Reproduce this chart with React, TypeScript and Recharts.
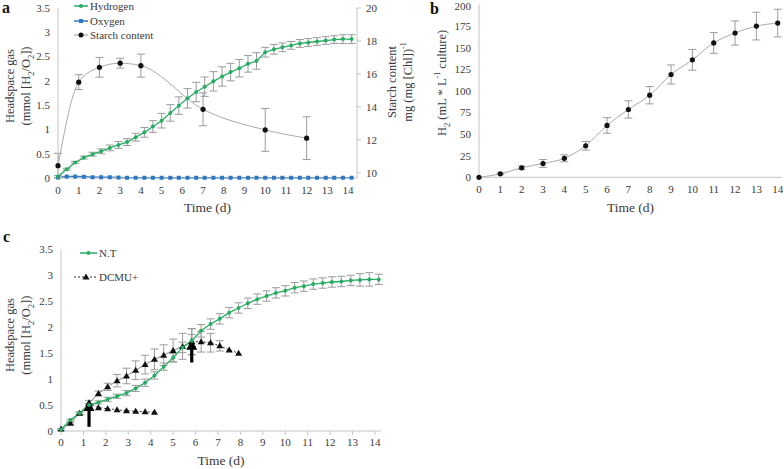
import React from 'react';
import { LineChart, Line, XAxis, YAxis, ErrorBar, Legend, ReferenceLine } from 'recharts';

const FONT = '"Liberation Serif", "Times New Roman", serif';
const GREEN = '#27ad62';
const BLUE = '#2e78c2';
const AXIS = '#c4c4c4';
const ERR = '#9b9b9b';
const TEXT = '#3a3a3a';

const dayTicks = [0, 1, 2, 3, 4, 5, 6, 7, 8, 9, 10, 11, 12, 13, 14];

// sampling every ~10 h (panels a and c)
const times = [
  0, 0.42, 0.83, 1.25, 1.67, 2.08, 2.5, 2.92, 3.33, 3.75, 4.17, 4.58, 5, 5.42, 5.83, 6.25, 6.67, 7.08,
  7.5, 7.92, 8.33, 8.75, 9.17, 9.58, 10, 10.42, 10.83, 11.25, 11.67, 12.08, 12.5, 12.92, 13.33, 13.75, 14.17,
];

// panel a
const hydrogen = [
  0.03, 0.18, 0.32, 0.42, 0.49, 0.55, 0.62, 0.68, 0.74, 0.84, 0.94, 1.06, 1.18, 1.34, 1.49, 1.64, 1.77, 1.88,
  1.99, 2.09, 2.18, 2.26, 2.35, 2.41, 2.59, 2.65, 2.69, 2.73, 2.77, 2.79, 2.81, 2.83, 2.85, 2.86, 2.86,
];
const hydrogenErr = [
  0.02, 0.02, 0.02, 0.03, 0.04, 0.05, 0.06, 0.07, 0.07, 0.08, 0.1, 0.12, 0.15, 0.17, 0.18, 0.2, 0.2, 0.2,
  0.2, 0.2, 0.18, 0.18, 0.17, 0.17, 0.1, 0.1, 0.09, 0.08, 0.08, 0.08, 0.08, 0.08, 0.08, 0.09, 0.09,
];
const oxygen = [
  0.01, 0.03, 0.03, 0.025, 0.015, 0.015, 0.015, 0.01, 0.005, 0.005, 0.005, 0.005, 0.005, 0.005, 0.005, 0.005,
  0.005, 0.005, 0.005, 0.005, 0.005, 0.005, 0.005, 0.005, 0.005, 0.005, 0.005, 0.005, 0.005, 0.005, 0.005,
  0.005, 0.005, 0.005, 0.005,
];
const starchDays = [0, 1, 2, 3, 4, 7, 10, 12];
const starch = [10.43, 15.5, 16.4, 16.65, 16.5, 13.85, 12.6, 12.1];
const starchErr = [0.75, 0.45, 0.6, 0.3, 0.7, 1.0, 1.3, 1.3];

// panel b
const h2Volume = [0, 4, 11, 16, 22, 36.5, 60, 78.5, 95, 119, 136, 155.5, 167, 175, 178.5];
const h2VolumeErr = [0, 1, 2, 4.5, 4, 5, 9, 10, 10, 11, 12, 12, 14, 16, 16];

// panel c
const nt = [
  0.03, 0.21, 0.34, 0.5, 0.55, 0.61, 0.67, 0.73, 0.82, 0.93, 1.07, 1.24, 1.41, 1.61, 1.74, 1.93, 2.06, 2.16,
  2.28, 2.37, 2.46, 2.54, 2.6, 2.66, 2.7, 2.76, 2.79, 2.83, 2.85, 2.87, 2.88, 2.9, 2.91, 2.92, 2.92,
];
const ntErr = [
  0.02, 0.02, 0.02, 0.03, 0.03, 0.04, 0.04, 0.05, 0.06, 0.07, 0.07, 0.07, 0.08, 0.1, 0.12, 0.12, 0.1, 0.1,
  0.1, 0.1, 0.1, 0.1, 0.1, 0.1, 0.1, 0.1, 0.1, 0.1, 0.1, 0.1, 0.1, 0.1, 0.12, 0.13, 0.1,
];
const ctrlTimes = [0, 0.42, 0.83, 1.25, 1.67, 2.08, 2.5, 2.92, 3.33, 3.75, 4.17, 4.58, 5, 5.42, 5.83];
const ctrl = [0.04, 0.15, 0.34, 0.54, 0.72, 0.85, 0.97, 1.06, 1.17, 1.28, 1.38, 1.46, 1.55, 1.63, 1.72];
const ctrlErr = [0, 0.02, 0.03, 0.05, 0.05, 0.07, 0.12, 0.15, 0.18, 0.18, 0.2, 0.2, 0.22, 0.25, 0.25];
const dcmuEarlyTimes = [1.25, 1.67, 2.08, 2.5, 2.92, 3.33, 3.75, 4.17];
const dcmuEarly = [0.54, 0.45, 0.43, 0.41, 0.39, 0.38, 0.37, 0.36];
const dcmuLateTimes = [5.83, 6.25, 6.67, 7.08, 7.5, 7.92];
const dcmuLate = [1.72, 1.72, 1.7, 1.64, 1.56, 1.5];
const dcmuLateErr = [0.25, 0.2, 0.18, 0.1, 0, 0];
// DCMU addition (arrows)
const arrows = [
  { t: 1.25, from: 0.08, to: 0.58 },
  { t: 5.83, from: 1.32, to: 1.76 },
];

type Row = { t: number; v: number; e: number };
const rows = (ts: number[], vs: number[], es?: number[]): Row[] =>
  ts.map((t, i) => ({ t, v: vs[i], e: es ? es[i] : 0 }));

const tickStyle = { fill: TEXT, fontSize: 11, fontFamily: FONT };
const xTitle = (offset: number) => ({
  value: 'Time (d)',
  position: 'insideBottom' as const,
  offset,
  fill: TEXT,
  fontSize: 13.5,
  fontFamily: FONT,
});

const YTitle = ({ viewBox, xs, shift, lines }: any) => {
  const cy = (viewBox?.y ?? 0) + (viewBox?.height ?? 0) / 2 + shift;
  return (
    <g>
      {lines.map((ln: React.ReactNode, i: number) => (
        <text
          key={i}
          x={xs[i]}
          y={cy}
          transform={`rotate(-90, ${xs[i]}, ${cy})`}
          textAnchor="middle"
          dominantBaseline="central"
          fontFamily={FONT}
          fontSize={12.5}
          fill={TEXT}
        >
          {ln}
        </text>
      ))}
    </g>
  );
};

const sub = (s: string) => (
  <tspan baselineShift="sub" fontSize={8.5}>
    {s}
  </tspan>
);
const sup = (s: string) => (
  <tspan baselineShift="super" fontSize={8}>
    {s}
  </tspan>
);

const headspace = [
  'Headspace gas',
  <>
    (mmol [H{sub('2')}/O{sub('2')}])
  </>,
];

const Square = (p: any) =>
  p.cx == null ? <g key={`s${p.index}`} /> : (
    <rect key={`s${p.index}`} x={p.cx - 2} y={p.cy - 2} width={4} height={4} fill={BLUE} />
  );

const Tri = (p: any) =>
  p.cx == null ? <g key={`t${p.index}`} /> : (
    <polygon
      key={`t${p.index}`}
      points={`${p.cx},${p.cy - 3.5} ${p.cx + 3.5},${p.cy + 2.5} ${p.cx - 3.5},${p.cy + 2.5}`}
      fill="#111"
    />
  );

const Arrow = (p: any) => {
  const x = p.x1;
  const tip = Math.min(p.y1, p.y2);
  const base = Math.max(p.y1, p.y2);
  return (
    <g>
      <line x1={x} x2={x} y1={base} y2={tip + 9} stroke="#000" strokeWidth={3.2} />
      <polygon points={`${x - 5.5},${tip + 10} ${x + 5.5},${tip + 10} ${x},${tip}`} fill="#000" />
    </g>
  );
};

const LegendA = () => (
  <svg width={200} height={45} style={{ display: 'block' }}>
    <line x1={74} x2={88} y1={6} y2={6} stroke={GREEN} strokeWidth={1.5} />
    <circle cx={81} cy={6} r={2} fill={GREEN} />
    <text x={90} y={6} dominantBaseline="central" {...tickStyle}>Hydrogen</text>
    <line x1={74} x2={88} y1={21} y2={21} stroke={BLUE} strokeWidth={1.5} />
    <rect x={79} y={19} width={4} height={4} fill={BLUE} />
    <text x={90} y={21} dominantBaseline="central" {...tickStyle}>Oxygen</text>
    <line x1={74} x2={88} y1={35} y2={35} stroke="#999" strokeWidth={1} />
    <circle cx={81} cy={35} r={2.5} fill="#111" />
    <text x={90} y={35} dominantBaseline="central" {...tickStyle}>Starch content</text>
  </svg>
);

const LegendC = () => (
  <svg width={200} height={45} style={{ display: 'block' }}>
    <line x1={80} x2={97} y1={13} y2={13} stroke={GREEN} strokeWidth={1.5} />
    <circle cx={88.5} cy={13} r={2} fill={GREEN} />
    <text x={99} y={13} dominantBaseline="central" {...tickStyle}>N.T</text>
    <line x1={74} x2={96} y1={37} y2={37} stroke="#333" strokeWidth={1} strokeDasharray="2 2" />
    <polygon points="86,33.5 89.5,39.5 82.5,39.5" fill="#111" />
    <text x={99} y={37} dominantBaseline="central" {...tickStyle}>DCMU+</text>
  </svg>
);

const legendWrap = { left: 0, top: 0, width: 200, height: 45 };
const greenDot = { r: 2, fill: GREEN, stroke: 'none' };
const blackDot = { r: 2.6, fill: '#111', stroke: 'none' };

export default function App() {
  return (
    <div style={{ position: 'absolute', left: 0, top: 0, width: 784, height: 469, background: '#fff' }}>
      {/* panel a */}
      <div style={{ position: 'absolute', left: 0, top: 0 }}>
        <LineChart width={430} height={220} margin={{ top: 8, right: 13, left: 0, bottom: 0 }}>
          <XAxis
            dataKey="t"
            type="number"
            domain={[0, 14.43]}
            ticks={dayTicks}
            height={42}
            axisLine={{ stroke: AXIS }}
            tickLine={false}
            tick={tickStyle}
            label={xTitle(8)}
          />
          <YAxis
            yAxisId="l"
            domain={[0, 3.5]}
            ticks={[0, 0.5, 1, 1.5, 2, 2.5, 3, 3.5]}
            width={58}
            axisLine={{ stroke: AXIS }}
            tickLine={false}
            tick={tickStyle}
            label={<YTitle xs={[10, 26]} shift={-7} lines={headspace} />}
          />
          <YAxis
            yAxisId="r"
            orientation="right"
            domain={[10, 20]}
            ticks={[10, 12, 14, 16, 18, 20]}
            width={60}
            axisLine={{ stroke: AXIS }}
            tickLine={{ stroke: AXIS }}
            tickSize={4}
            tickMargin={5}
            tick={tickStyle}
            label={
              <YTitle
                xs={[392, 408]}
                shift={-11}
                lines={['Starch content', <>mg (mg [Chl]){sup('-1')}</>]}
              />
            }
          />
          <Legend
            layout="horizontal"
            verticalAlign="middle"
            align="center"
            content={<LegendA />}
            wrapperStyle={legendWrap}
          />
          <Line
            yAxisId="r"
            data={rows(starchDays, starch, starchErr)}
            dataKey="v"
            type="monotone"
            stroke="#aaa"
            strokeWidth={1}
            dot={blackDot}
            isAnimationActive={false}
          >
            <ErrorBar dataKey="e" width={4} stroke={ERR} strokeWidth={1} direction="y" />
          </Line>
          <Line
            yAxisId="l"
            data={rows(times, oxygen)}
            dataKey="v"
            type="linear"
            stroke={BLUE}
            strokeWidth={1.5}
            dot={Square}
            isAnimationActive={false}
          />
          <Line
            yAxisId="l"
            data={rows(times, hydrogen, hydrogenErr)}
            dataKey="v"
            type="linear"
            stroke={GREEN}
            strokeWidth={1.3}
            dot={greenDot}
            isAnimationActive={false}
          >
            <ErrorBar dataKey="e" width={4} stroke={ERR} strokeWidth={1} direction="y" />
          </Line>
        </LineChart>
      </div>

      {/* panel b */}
      <div style={{ position: 'absolute', left: 430, top: 0 }}>
        <LineChart
          width={354}
          height={220}
          margin={{ top: 4.5, right: 2, left: 0, bottom: 0 }}
          data={rows(dayTicks, h2Volume, h2VolumeErr)}
        >
          <XAxis
            dataKey="t"
            type="number"
            domain={[0, 14.2]}
            ticks={dayTicks}
            height={42.7}
            axisLine={{ stroke: AXIS }}
            tickLine={false}
            tick={tickStyle}
            label={xTitle(8)}
          />
          <YAxis
            domain={[0, 200]}
            ticks={[0, 25, 50, 75, 100, 125, 150, 175, 200]}
            width={49}
            axisLine={{ stroke: AXIS }}
            tickLine={false}
            tick={tickStyle}
            label={
              <YTitle
                xs={[12]}
                shift={-8}
                lines={[<>H{sub('2')} (mL * L{sup('-1')} culture)</>]}
              />
            }
          />
          <Line
            dataKey="v"
            type="monotone"
            stroke="#aaa"
            strokeWidth={1}
            dot={blackDot}
            isAnimationActive={false}
          >
            <ErrorBar dataKey="e" width={4} stroke={ERR} strokeWidth={1} direction="y" />
          </Line>
        </LineChart>
      </div>

      {/* panel c */}
      <div style={{ position: 'absolute', left: 0, top: 240 }}>
        <LineChart width={430} height={229} margin={{ top: 9.3, right: 49, left: 0, bottom: 0 }}>
          <XAxis
            dataKey="t"
            type="number"
            domain={[0, 14.27]}
            ticks={dayTicks}
            height={38}
            axisLine={{ stroke: AXIS }}
            tickLine={{ stroke: AXIS }}
            tickSize={4}
            tickMargin={3}
            tick={tickStyle}
            label={xTitle(4)}
          />
          <YAxis
            domain={[0, 3.5]}
            ticks={[0, 0.5, 1, 1.5, 2, 2.5, 3, 3.5]}
            width={61}
            axisLine={{ stroke: AXIS }}
            tickLine={false}
            tick={tickStyle}
            label={<YTitle xs={[10, 26]} shift={-5} lines={headspace} />}
          />
          <Legend
            layout="horizontal"
            verticalAlign="middle"
            align="center"
            content={<LegendC />}
            wrapperStyle={legendWrap}
          />
          <Line
            data={rows(dcmuEarlyTimes, dcmuEarly)}
            dataKey="v"
            type="linear"
            stroke="#333"
            strokeWidth={1}
            strokeDasharray="2 2"
            dot={Tri}
            isAnimationActive={false}
          />
          <Line
            data={rows(dcmuLateTimes, dcmuLate, dcmuLateErr)}
            dataKey="v"
            type="linear"
            stroke="#333"
            strokeWidth={1}
            strokeDasharray="2 2"
            dot={Tri}
            isAnimationActive={false}
          >
            <ErrorBar dataKey="e" width={4} stroke={ERR} strokeWidth={1} direction="y" />
          </Line>
          <Line
            data={rows(ctrlTimes, ctrl, ctrlErr)}
            dataKey="v"
            type="linear"
            stroke="#888"
            strokeWidth={1}
            dot={Tri}
            isAnimationActive={false}
          >
            <ErrorBar dataKey="e" width={4} stroke={ERR} strokeWidth={1} direction="y" />
          </Line>
          <Line
            data={rows(times, nt, ntErr)}
            dataKey="v"
            type="linear"
            stroke={GREEN}
            strokeWidth={1.3}
            dot={greenDot}
            isAnimationActive={false}
          >
            <ErrorBar dataKey="e" width={4} stroke={ERR} strokeWidth={1} direction="y" />
          </Line>
          {arrows.map((a, i) => (
            <ReferenceLine
              key={i}
              segment={[
                { x: a.t, y: a.from },
                { x: a.t, y: a.to },
              ]}
              shape={Arrow}
            />
          ))}
        </LineChart>
      </div>

      <svg
        width={784}
        height={469}
        style={{ position: 'absolute', left: 0, top: 0, pointerEvents: 'none' }}
      >
        <text x={2} y={13} fontFamily={FONT} fontWeight="bold" fontSize={16} fill="#111">a</text>
        <text x={430} y={14} fontFamily={FONT} fontWeight="bold" fontSize={16} fill="#111">b</text>
        <text x={3} y={242} fontFamily={FONT} fontWeight="bold" fontSize={16} fill="#111">c</text>
      </svg>
    </div>
  );
}
